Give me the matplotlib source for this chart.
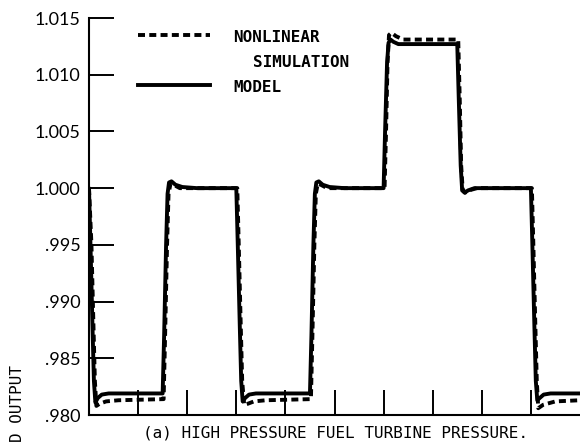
import matplotlib
matplotlib.use('Agg')
import matplotlib.pyplot as plt

# step response of the linear model (solid) and the nonlinear simulation (dashed)
model_t = [0.00, 0.03, 0.07, 0.10, 0.13, 0.18, 0.26, 0.40,
           1.50, 1.53, 1.57, 1.60, 1.63, 1.68, 1.76, 1.90, 2.20,
           3.00, 3.03, 3.07, 3.10, 3.13, 3.18, 3.26, 3.40,
           4.50, 4.53, 4.57, 4.60, 4.63, 4.68, 4.76, 4.90, 5.20,
           6.00, 6.03, 6.07, 6.10, 6.14, 6.20, 6.30,
           7.50, 7.53, 7.57, 7.60, 7.65, 7.72, 7.85,
           9.00, 9.03, 9.07, 9.10, 9.13, 9.18, 9.26, 9.40, 10.00]
model_v = [1.0000, 0.9950, 0.9880, 0.9830, 0.9811, 0.9815, 0.9818, 0.9819,
           0.9819, 0.9870, 0.9950, 0.9995, 1.0005, 1.0006, 1.0003, 1.0001, 1.0000,
           1.0000, 0.9950, 0.9880, 0.9830, 0.9812, 0.9815, 0.9818, 0.9819,
           0.9819, 0.9870, 0.9950, 0.9995, 1.0005, 1.0006, 1.0003, 1.0001, 1.0000,
           1.0000, 1.0050, 1.0110, 1.0128, 1.0131, 1.0129, 1.0127,
           1.0127, 1.0080, 1.0020, 0.9998, 0.9996, 0.9998, 1.0000,
           1.0000, 0.9950, 0.9880, 0.9830, 0.9813, 0.9815, 0.9818, 0.9819, 0.9819]

sim_t = [0.00, 0.05, 0.09, 0.12, 0.15, 0.22, 0.35, 0.60,
         1.52, 1.55, 1.59, 1.62, 1.66, 1.72, 1.85,
         3.02, 3.05, 3.09, 3.12, 3.16, 3.24, 3.36, 3.60,
         4.52, 4.55, 4.59, 4.62, 4.66, 4.72, 4.85,
         6.02, 6.05, 6.08, 6.11, 6.16, 6.25, 6.40,
         7.52, 7.55, 7.58, 7.61, 7.66, 7.74, 7.90,
         9.02, 9.05, 9.09, 9.12, 9.15, 9.25, 9.50, 10.00]
sim_v = [1.0000, 0.9950, 0.9880, 0.9830, 0.9808, 0.9810, 0.9812, 0.9813,
         0.9814, 0.9870, 0.9950, 0.9995, 1.0004, 1.0003, 1.0000,
         1.0000, 0.9950, 0.9880, 0.9830, 0.9809, 0.9810, 0.9812, 0.9813,
         0.9814, 0.9870, 0.9950, 0.9995, 1.0004, 1.0003, 1.0000,
         1.0000, 1.0050, 1.0110, 1.0135, 1.0137, 1.0134, 1.0131,
         1.0131, 1.0080, 1.0020, 0.9999, 0.9996, 0.9998, 1.0000,
         1.0000, 0.9950, 0.9880, 0.9830, 0.9806, 0.9809, 0.9812, 0.9813]

y_ticks = [0.980, 0.985, 0.990, 0.995, 1.000, 1.005, 1.010, 1.015]
y_labels = ['.980', '.985', '.990', '.995', '1.000', '1.005', '1.010', '1.015']
x_ticks = [1, 2, 3, 4, 5, 6, 7, 8, 9]

mono = 'DejaVu Sans Mono'
dash = (0, (1.8, 1.1))

fig = plt.figure(figsize=(5.8, 4.44), dpi=100)
ax = fig.add_axes([89 / 580, 29 / 444, 491 / 580, 397 / 444])

ax.plot(model_t, model_v, color='black', lw=2.8, solid_joinstyle='round',
        solid_capstyle='round')
ax.plot(sim_t, sim_v, color='black', lw=2.8, linestyle=dash,
        dash_capstyle='butt')

ax.set_xlim(0, 10)
ax.set_ylim(0.980, 1.015)
ax.set_yticks(y_ticks)
ax.set_yticklabels(y_labels, fontfamily='Lato', fontsize=13)
ax.set_xticks(x_ticks)
ax.set_xticklabels([])
ax.tick_params(axis='both', direction='in', length=18, width=1.4)
ax.tick_params(axis='y', pad=6)
for side in ['top', 'right']:
    ax.spines[side].set_visible(False)
for side in ['left', 'bottom']:
    ax.spines[side].set_linewidth(1.5)

# legend drawn by hand
ax.plot([0.99, 2.47], [1.0135, 1.0135], color='black', lw=2.8,
        linestyle=dash, dash_capstyle='butt', clip_on=False)
ax.plot([0.99, 2.47], [1.0091, 1.0091], color='black', lw=2.8, clip_on=False)
ax.text(2.94, 1.0133, 'NONLINEAR', fontfamily=mono, fontsize=11.5,
        fontweight='bold', va='center', ha='left')
ax.text(3.35, 1.0111, 'SIMULATION', fontfamily=mono, fontsize=11.5,
        fontweight='bold', va='center', ha='left')
ax.text(2.94, 1.0089, 'MODEL', fontfamily=mono, fontsize=11.5,
        fontweight='bold', va='center', ha='left')

fig.text(143 / 580, 1 - 433 / 444, '(a) HIGH PRESSURE FUEL TURBINE PRESSURE.',
         fontfamily=mono, fontsize=11.5, va='center', ha='left')
fig.text(18 / 580, 1 - 442 / 444, 'D OUTPUT', fontfamily=mono,
         fontsize=11.5, rotation=90, va='bottom', ha='center')

fig.savefig('out.png', dpi=100)
